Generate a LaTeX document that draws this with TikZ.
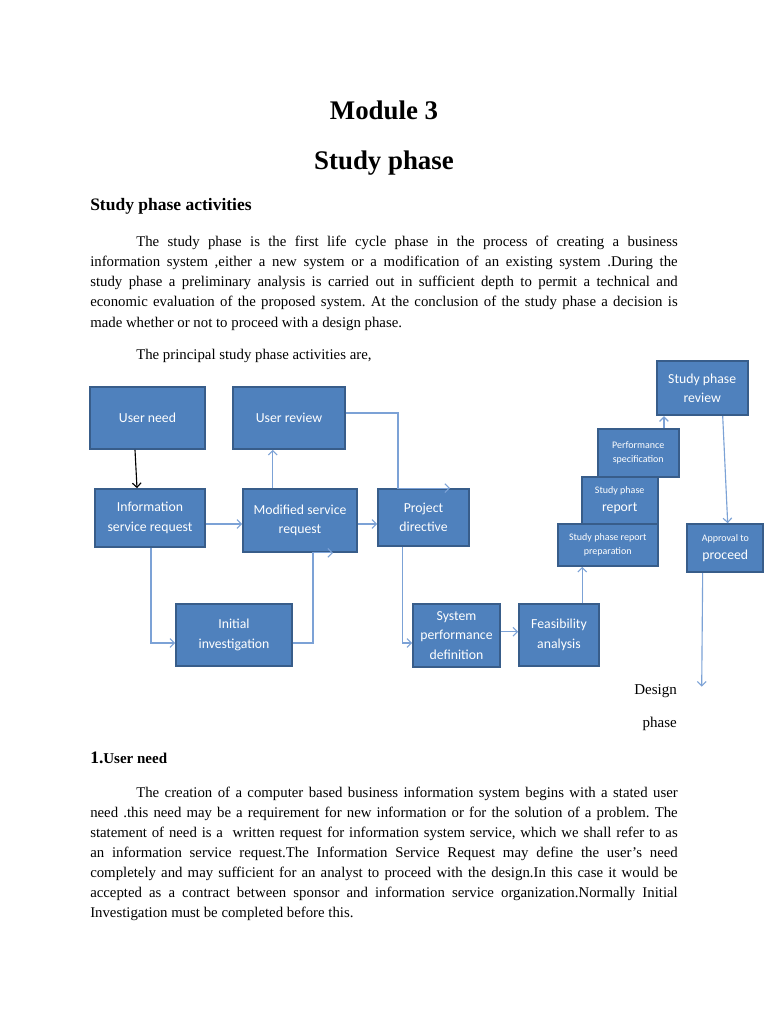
\documentclass[tikz,border=0pt]{standalone}
\usepackage{fontspec}
\setmainfont{Liberation Serif}
\newfontfamily\boxfont{Carlito}
\usepackage{xcolor}
\usepackage{tikz}
\usetikzlibrary{arrows.meta,calc}

\definecolor{boxfill}{RGB}{79,129,189}
\definecolor{boxline}{RGB}{56,93,138}
\definecolor{linkblue}{RGB}{124,162,214}

\newcommand{\bigfnt}{\fontsize{11}{15.5}\selectfont}
\newcommand{\smallfnt}{\fontsize{8}{11.5}\selectfont}
\newcommand{\mixfnt}{\fontsize{8}{14.4}\selectfont}
\newcommand{\mixbig}{\fontsize{11}{14.4}\selectfont}

\begin{document}
\frenchspacing
\hyphenpenalty=10000
\begin{tikzpicture}[x=0.8pt,y=-0.8pt,
  blk/.style={draw=boxline, fill=boxfill, line width=1.4pt, text=white,
    align=center, inner sep=0pt, font=\boxfont\bigfnt},
  link/.style={draw=linkblue, line width=0.9pt,
    -{Straight Barb[length=3.5pt,width=7pt]}},
  para/.style={anchor=base west, inner sep=0pt, text width=470pt, align=justify,
    font=\fontsize{11.85}{16.2}\selectfont}]
\useasboundingbox[fill=white] (0,0) rectangle (768,1024);

% Page heading
\node[anchor=base, font=\bfseries\fontsize{21.5}{26}\selectfont] (ttl) at (384,119.3) {Module 3};
\node[anchor=base, font=\bfseries\fontsize{21.5}{26}\selectfont] (sub) at (384,170) {Study phase};
\node[anchor=base west, inner sep=0pt, font=\bfseries\fontsize{14}{17}\selectfont] (hd) at (90,210.7) {Study phase activities};

% Intro text
\node[para] (intro) at (90,246) {\hspace*{36.8pt}The study phase is the first life cycle phase in the process of creating a business\linebreak
information system ,either a new system or a modification of an existing system .During the\linebreak
study phase a preliminary analysis is carried out in sufficient depth to permit a technical and\linebreak
economic evaluation of the proposed system. At the conclusion of the study phase a decision is\linebreak
made whether or not to proceed with a design phase.};
\node[para] (lead) at (90,359) {\hspace*{36.8pt}The principal study phase activities are,};

% Left part of the chart
\node[blk, minimum width=92pt, minimum height=49.6pt] (un) at (147.5,418) {User need};
\node[blk, minimum width=89.6pt, minimum height=49.6pt] (ur) at (289,418) {User review};
\node[blk, minimum width=88pt, minimum height=46.4pt] (isr) at (150,518) {Information\\service request};
\node[blk, minimum width=91.2pt, minimum height=50.4pt] (msr) at (300,520.5) {Modified service\\request};
\node[blk, minimum width=72.8pt, minimum height=45.6pt] (pd) at (423.5,517.5) {Project\\directive};
\node[blk, minimum width=92.8pt, minimum height=49.6pt] (ii) at (234,635) {Initial\\investigation};
\node[blk, minimum width=69.6pt, minimum height=50.4pt] (spd) at (456.5,635.5) {System\\performance\\definition};
\node[blk, minimum width=64pt, minimum height=49.6pt] (fa) at (559,635) {Feasibility\\analysis};

% Right part of the chart (stacked boxes)
\node[blk, font=\boxfont\smallfnt, minimum width=80pt, minimum height=33.6pt] (sprp) at (607.7,545) {Study phase report\\preparation};
\node[blk, font=\boxfont\mixfnt, minimum width=60.8pt, minimum height=37.8pt] (spr) at (619.7,500.4) {Study phase\\{\mixbig report}};
\node[blk, font=\boxfont\smallfnt, minimum width=64.8pt, minimum height=38.2pt] (ps) at (638.2,452.8) {Performance\\specification};
\node[blk, minimum width=72.8pt, minimum height=43.4pt] (spv) at (702.2,388.2) {Study phase\\review};
\node[blk, font=\boxfont\mixfnt, minimum width=60.8pt, minimum height=38.6pt] (ap) at (725.3,548.2) {Approval to\\{\mixbig proceed}};
\coordinate (dend) at (701.7,686.7);

% Connectors
\draw[link, draw=black] ([xshift=-10pt]un.south) -- ([xshift=-10.4pt]isr.north);
\draw[link] ([yshift=-4.8pt]isr.east) -- ([yshift=-4.8pt]isr.east -| msr.west);
\draw[link] ([xshift=-21.8pt]msr.north) -- ([xshift=-21.8pt]msr.north |- ur.south);
\draw[link] ([yshift=4pt]ur.east) -| ([xshift=-20.4pt]pd.north) -- ([xshift=21.2pt]pd.north);
\draw[link] ([yshift=-2.8pt]msr.east) -- ([yshift=-2.8pt]msr.east -| pd.west);
\draw[link] ([xshift=0.8pt]isr.south) |- ([yshift=-6.4pt]ii.west);
\draw[link] ([yshift=-6.4pt]ii.east) -| ([xshift=10.4pt]msr.south) -- ([xshift=26.4pt]msr.south);
\draw[link] ([xshift=-16.6pt]pd.south) |- ([yshift=-6pt]spd.west);
\draw[link] ([yshift=3pt]spd.east) -- ([yshift=3pt]spd.east -| fa.west);
\draw[link] ([xshift=18.6pt]fa.north) -- ([xshift=18.6pt]fa.north |- sprp.south);
\draw[link] ([xshift=20.6pt]ps.north) -- ([xshift=20.6pt]ps.north |- spv.south);
\draw[link] ([xshift=16.4pt]spv.south) -- ([xshift=1.9pt]ap.north);
\draw[link] ([xshift=-18.1pt]ap.south) -- (dend);

% Design phase label
\node[anchor=base east, inner sep=0pt, font=\fontsize{12}{16}\selectfont] (dsg) at (677,694) {Design};
\node[anchor=base east, inner sep=0pt, font=\fontsize{12}{16}\selectfont] (phs) at (677,727) {phase};

% Section 1
\node[anchor=base west, inner sep=0pt, font=\bfseries] (s1) at (90,763) {{\fontsize{14}{17}\selectfont 1.}{\fontsize{12}{16}\selectfont User need}};
\node[para, font=\fontsize{11.85}{16.13}\selectfont] (body) at (90,797) {\hspace*{36.8pt}The creation of a computer based business information system begins with a stated user\linebreak
need .this need may be a requirement for new information or for the solution of a problem. The\linebreak
statement of need is a \ written request for information system service, which we shall refer to as\linebreak
an information service request.The Information Service Request may define the user’s need\linebreak
completely and may sufficient for an analyst to proceed with the design.In this case it would be\linebreak
accepted as a contract between sponsor and information service organization.Normally Initial\linebreak
Investigation must be completed before this.};
\end{tikzpicture}
\end{document}
